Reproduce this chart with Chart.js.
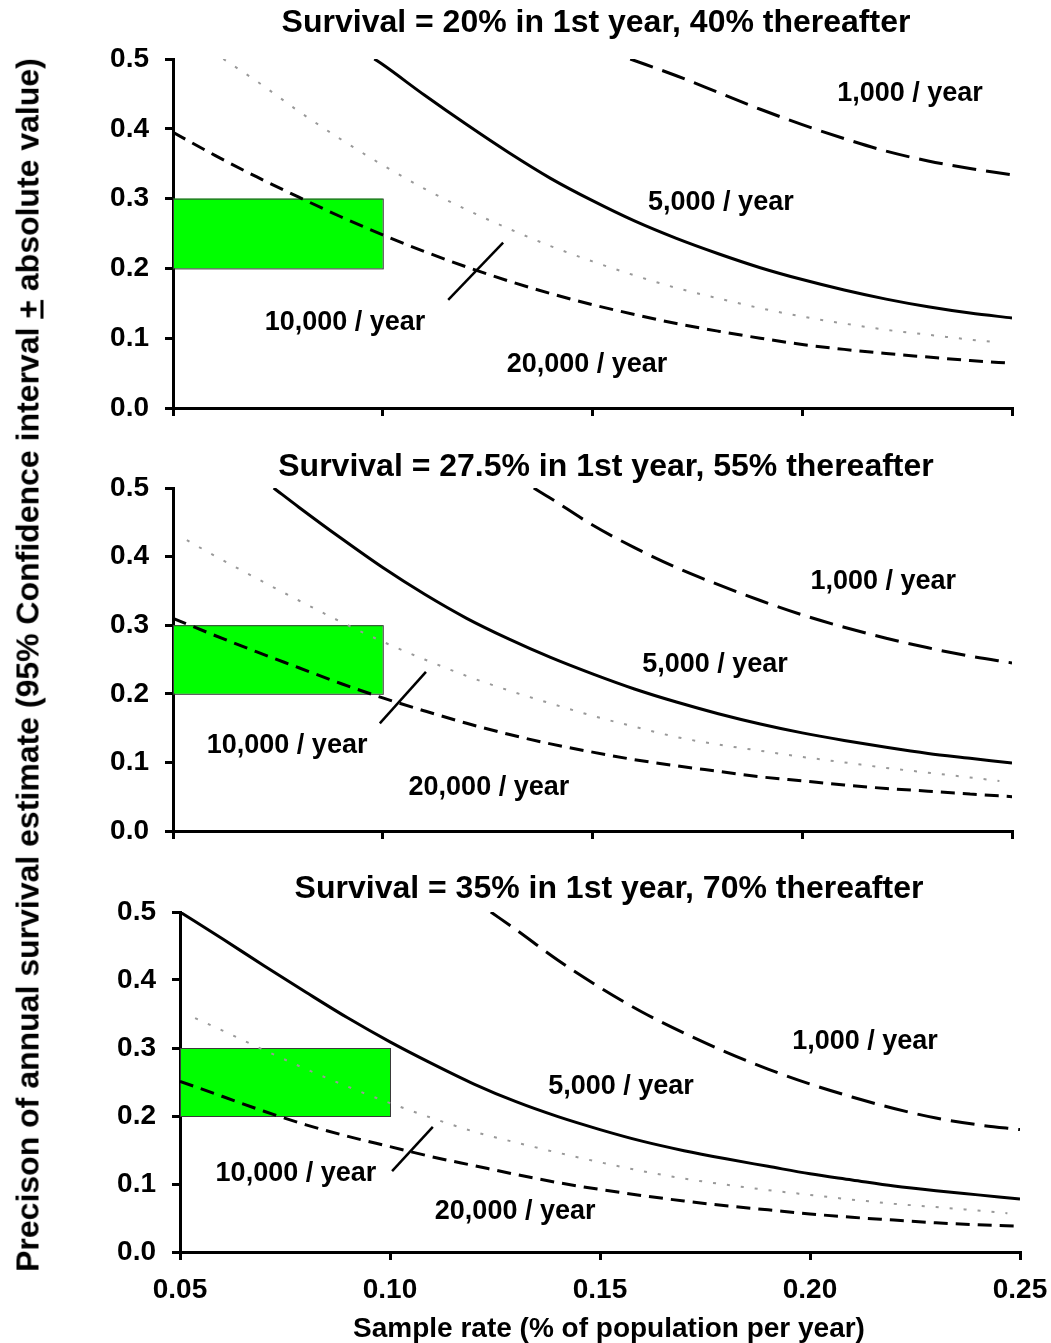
<!DOCTYPE html>
<html>
<head>
<meta charset="utf-8">
<script src="https://cdn.jsdelivr.net/npm/chart.js@4.4.1/dist/chart.umd.min.js"></script>
<style>
  body { margin: 0; background: #fff; }
  #wrap { position: relative; width: 1051px; height: 1343px; overflow: hidden; font-family: "Liberation Sans", Arial, sans-serif; font-weight: bold; color: #000; }
  canvas { position: absolute; left: 0; }
  .txt { position: absolute; white-space: nowrap; transform: translate(-50%, -50%); z-index: 2; }
  .ptitle { font-size: 32px; }
  #ytitle { left: 28px; top: 665px; font-size: 32px; transform: translate(-50%, -50%) rotate(-90deg); }
  #xtitle { left: 609px; top: 1328px; font-size: 28px; }
</style>
</head>
<body>
<div id="wrap">
  <canvas id="c1" width="1051" height="421" style="top:23px"></canvas>
  <canvas id="c2" width="1051" height="415" style="top:452px"></canvas>
  <canvas id="c3" width="1051" height="467" style="top:876px"></canvas>
  <div class="txt ptitle" style="left:596px; top:21px">Survival = 20% in 1st year, 40% thereafter</div>
  <div class="txt ptitle" style="left:606px; top:465px">Survival = 27.5% in 1st year, 55% thereafter</div>
  <div class="txt ptitle" style="left:609px; top:887px">Survival = 35% in 1st year, 70% thereafter</div>
  <div class="txt" id="ytitle">Precison of annual survival estimate (95% Confidence interval <u>+</u> absolute value)</div>
  <div class="txt" id="xtitle">Sample rate (% of population per year)</div>
</div>
<script>
// sample rate grid (x axis)
const rates = [0.05, 0.06, 0.07, 0.08, 0.09, 0.10, 0.11, 0.12, 0.13, 0.14, 0.15,
               0.16, 0.17, 0.18, 0.19, 0.20, 0.21, 0.22, 0.23, 0.24, 0.25];
const seriesNames = ["1,000 / year", "5,000 / year", "10,000 / year", "20,000 / year"];
const xTicks = [0.05, 0.10, 0.15, 0.20, 0.25];
const yTicks = [0.0, 0.1, 0.2, 0.3, 0.4, 0.5];

// panel 1 : survival 20% / 40%
const p1Rate1000 = [0.159, ...rates.slice(12)];
const p1Prec1000 = [0.50, 0.476, 0.452, 0.428, 0.406, 0.386, 0.368, 0.354, 0.343, 0.334];
const p1Rate5000 = [0.098, ...rates.slice(5)];
const p1Prec5000 = [0.50, 0.492, 0.448, 0.406, 0.366, 0.329, 0.297, 0.268, 0.243, 0.221, 0.201, 0.184, 0.169, 0.156, 0.145, 0.136, 0.129];
const p1Rate10k = [0.062, ...rates.slice(2, 20), 0.247];
const p1Prec10k = [0.50, 0.468, 0.425, 0.385, 0.348, 0.314, 0.284, 0.257, 0.232, 0.210, 0.190, 0.172, 0.157, 0.143, 0.131, 0.121, 0.112, 0.105, 0.098, 0.094];
const p1Rate20k = rates;
const p1Prec20k = [0.395, 0.362, 0.331, 0.302, 0.274, 0.248, 0.224, 0.202, 0.182, 0.164, 0.148, 0.134, 0.121, 0.110, 0.100, 0.091, 0.084, 0.078, 0.073, 0.068, 0.064];
const p1LeaderRate = [0.1156, 0.1287];
const p1LeaderPrec = [0.155, 0.237];

// panel 2 : survival 27.5% / 55%
const p2Rate1000 = [0.136, ...rates.slice(9)];
const p2Prec1000 = [0.50, 0.485, 0.446, 0.413, 0.384, 0.359, 0.336, 0.315, 0.297, 0.281, 0.267, 0.255, 0.245];
const p2Rate5000 = [0.074, ...rates.slice(3)];
const p2Prec5000 = [0.50, 0.472, 0.427, 0.384, 0.345, 0.310, 0.280, 0.253, 0.229, 0.207, 0.188, 0.171, 0.156, 0.143, 0.132, 0.122, 0.113, 0.106, 0.099];
const p2Rate10k = [0.0533, ...rates.slice(1, 20), 0.247];
const p2Prec10k = [0.424, 0.401, 0.368, 0.336, 0.305, 0.276, 0.250, 0.226, 0.205, 0.186, 0.168, 0.152, 0.137, 0.126, 0.117, 0.108, 0.100, 0.092, 0.085, 0.078, 0.073];
const p2Rate20k = rates;
const p2Prec20k = [0.310, 0.285, 0.261, 0.238, 0.215, 0.194, 0.175, 0.157, 0.141, 0.127, 0.115, 0.104, 0.095, 0.087, 0.079, 0.073, 0.067, 0.062, 0.058, 0.054, 0.050];
const p2LeaderRate = [0.0993, 0.1103];
const p2LeaderPrec = [0.157, 0.232];

// panel 3 : survival 35% / 70%
const p3Rate1000 = [0.124, ...rates.slice(8)];
const p3Prec1000 = [0.50, 0.474, 0.429, 0.389, 0.353, 0.322, 0.294, 0.269, 0.247, 0.228, 0.211, 0.197, 0.187, 0.180];
const p3Rate5000 = rates;
const p3Prec5000 = [0.50, 0.461, 0.421, 0.382, 0.344, 0.309, 0.277, 0.247, 0.221, 0.199, 0.180, 0.163, 0.149, 0.137, 0.126, 0.115, 0.106, 0.097, 0.090, 0.084, 0.078];
const p3Rate10k = [0.0536, ...rates.slice(1, 20), 0.247];
const p3Prec10k = [0.344, 0.326, 0.297, 0.269, 0.243, 0.219, 0.197, 0.177, 0.161, 0.146, 0.132, 0.119, 0.108, 0.099, 0.091, 0.084, 0.077, 0.071, 0.066, 0.061, 0.057];
const p3Rate20k = rates;
const p3Prec20k = [0.251, 0.229, 0.207, 0.187, 0.170, 0.155, 0.140, 0.127, 0.114, 0.102, 0.092, 0.083, 0.075, 0.068, 0.062, 0.056, 0.051, 0.047, 0.043, 0.040, 0.038];
const p3LeaderRate = [0.1005, 0.1102];
const p3LeaderPrec = [0.119, 0.184];

// target zone (green box)
const boxRate = [0.05, 0.10];
const boxPrec = [0.2, 0.3];

Chart.defaults.font.family = '"Liberation Sans", Arial, sans-serif';
Chart.defaults.font.weight = "bold";
Chart.defaults.font.size = 28;
Chart.defaults.color = "#000";

const lineStyles = [
  { borderColor: "#000", borderWidth: 3, borderDash: [24, 10] },
  { borderColor: "#000", borderWidth: 3, borderDash: [] },
  { borderColor: "#999", borderWidth: 2, borderDash: [3, 11] },
  { borderColor: "#000", borderWidth: 3, borderDash: [14, 8] },
];

function pts(xs, ys) {
  return xs.map((x, i) => ({ x: x, y: ys[i] }));
}

const boxPlugin = {
  id: "targetBox",
  beforeDatasetsDraw(chart) {
    const { ctx, scales } = chart;
    const x0 = scales.x.getPixelForValue(boxRate[0]);
    const x1 = scales.x.getPixelForValue(boxRate[1]);
    const y0 = scales.y.getPixelForValue(boxPrec[1]);
    const y1 = scales.y.getPixelForValue(boxPrec[0]);
    ctx.save();
    ctx.fillStyle = "#00ff00";
    ctx.fillRect(x0, y0, x1 - x0, y1 - y0);
    ctx.strokeStyle = "#3a3a3a";
    ctx.lineWidth = 1;
    ctx.strokeRect(x0 + 0.5, y0 + 0.5, x1 - x0, y1 - y0);
    ctx.restore();
  },
};

const labelPlugin = {
  id: "curveLabels",
  afterDatasetsDraw(chart, args, opts) {
    const { ctx, scales } = chart;
    ctx.save();
    ctx.font = 'bold 27px "Liberation Sans", Arial, sans-serif';
    ctx.fillStyle = "#000";
    ctx.textAlign = "center";
    ctx.textBaseline = "middle";
    seriesNames.forEach((name, i) => {
      ctx.fillText(name, scales.x.getPixelForValue(opts.x[i]), scales.y.getPixelForValue(opts.y[i]));
    });
    ctx.restore();
  },
};

function makePanel(id, series, leader, labels, yWidth, xHeight, padTop, padRight, showX) {
  const datasets = series.map((s, i) => Object.assign({
    label: seriesNames[i],
    data: pts(s[0], s[1]),
    showLine: true,
    pointRadius: 0,
    fill: false,
    cubicInterpolationMode: "monotone",
  }, lineStyles[i]));
  datasets.push({
    label: "leader",
    data: pts(leader[0], leader[1]),
    showLine: true,
    pointRadius: 0,
    borderColor: "#000",
    borderWidth: 2.5,
  });

  return new Chart(document.getElementById(id), {
    type: "scatter",
    data: { datasets: datasets },
    plugins: [boxPlugin, labelPlugin],
    options: {
      responsive: false,
      animation: false,
      layout: { padding: { top: padTop, right: padRight, left: 0, bottom: 0 } },
      plugins: {
        legend: { display: false },
        tooltip: { enabled: false },
        curveLabels: { x: labels[0], y: labels[1] },
      },
      scales: {
        x: {
          type: "linear",
          min: 0.05,
          max: 0.25,
          afterBuildTicks: (s) => { s.ticks = xTicks.map((v) => ({ value: v })); },
          afterFit: (s) => { s.height = xHeight; s.paddingLeft = 0; s.paddingRight = 0; },
          border: { display: true, color: "#000", width: 3 },
          grid: { drawOnChartArea: false, drawTicks: true, tickLength: 8, color: "#000", lineWidth: 3 },
          ticks: { display: showX, padding: 13, maxRotation: 0, callback: (v) => v.toFixed(2) },
        },
        y: {
          min: 0,
          max: 0.5,
          afterBuildTicks: (s) => { s.ticks = yTicks.map((v) => ({ value: v })); },
          afterFit: (s) => { s.width = yWidth; },
          border: { display: true, color: "#000", width: 3 },
          grid: { drawOnChartArea: false, drawTicks: true, tickLength: 8, color: "#000", lineWidth: 3 },
          ticks: { padding: 16, callback: (v) => v.toFixed(1) },
        },
      },
    },
  });
}

makePanel("c1",
  [[p1Rate1000, p1Prec1000], [p1Rate5000, p1Prec5000], [p1Rate10k, p1Prec10k], [p1Rate20k, p1Prec20k]],
  [p1LeaderRate, p1LeaderPrec],
  [[0.2257, 0.1806, 0.091, 0.1487], [0.450, 0.295, 0.123, 0.062]],
  173, 36, 36, 39, false);

makePanel("c2",
  [[p2Rate1000, p2Prec1000], [p2Rate5000, p2Prec5000], [p2Rate10k, p2Prec10k], [p2Rate20k, p2Prec20k]],
  [p2LeaderRate, p2LeaderPrec],
  [[0.2193, 0.1792, 0.0772, 0.1253], [0.364, 0.242, 0.125, 0.064]],
  173, 36, 36, 39, false);

makePanel("c3",
  [[p3Rate1000, p3Prec1000], [p3Rate5000, p3Prec5000], [p3Rate10k, p3Prec10k], [p3Rate20k, p3Prec20k]],
  [p3LeaderRate, p3LeaderPrec],
  [[0.2131, 0.155, 0.0776, 0.1298], [0.31, 0.244, 0.115, 0.06]],
  180, 91, 36, 31, true);
</script>
</body>
</html>
